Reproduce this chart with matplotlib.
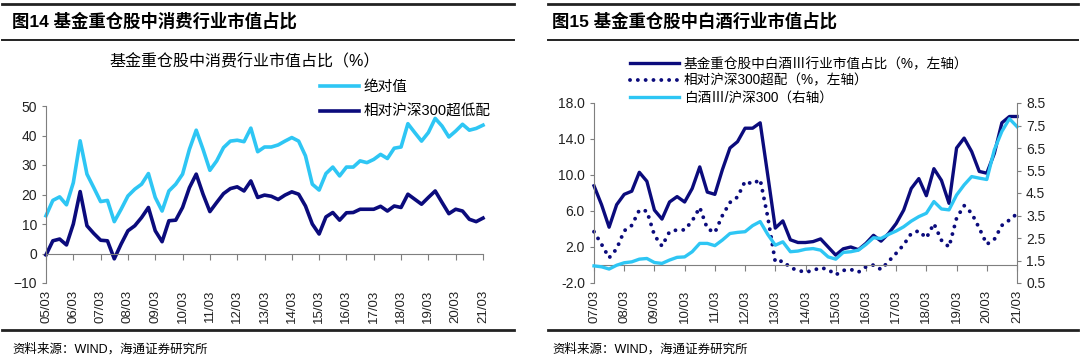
import numpy as np
import matplotlib
matplotlib.use('Agg')
import matplotlib.pyplot as plt
from matplotlib.lines import Line2D

plt.rcParams['font.family'] = ['Liberation Sans', 'Noto Sans CJK SC']

# fig 14: consumer sector share in funds' top holdings, quarterly 05/03 - 21/03
cons_abs = [12.8, 18.0, 19.2, 16.5, 24.0, 38.2, 26.9, 22.3, 17.6, 18.0,
            10.8, 15.0, 19.5, 21.8, 23.5, 27.1, 19.0, 14.4, 21.2, 23.5,
            26.9, 35.3, 41.8, 35.3, 28.2, 31.4, 35.9, 38.1, 38.4, 37.9,
            42.5, 34.5, 36.1, 36.1, 36.8, 38.1, 39.3, 38.1, 33.1, 23.5,
            21.5, 27.1, 29.3, 26.3, 29.3, 29.3, 31.4, 30.8, 31.9, 33.6,
            32.2, 35.7, 36.1, 44.0, 41.0, 38.1, 41.0, 45.8, 43.2, 39.5,
            41.5, 43.8, 41.8, 42.4, 43.5]
cons_rel = [-0.5, 4.3, 4.9, 2.9, 10.0, 21.0, 9.4, 6.8, 4.5, 4.3,
            -1.8, 3.2, 7.7, 9.4, 12.2, 15.6, 7.7, 4.0, 11.1, 11.3,
            15.6, 22.3, 26.9, 20.1, 14.2, 17.3, 20.3, 22.0, 22.6, 21.2,
            24.6, 19.0, 19.8, 19.4, 18.3, 19.8, 20.9, 20.1, 16.1, 10.0,
            6.6, 12.4, 13.9, 11.3, 13.8, 13.9, 15.0, 15.0, 15.0, 16.0,
            14.4, 16.1, 15.6, 20.1, 18.4, 16.7, 19.0, 21.2, 17.3, 13.5,
            15.0, 14.4, 11.6, 10.8, 12.0]
cons_years = ['05/03', '06/03', '07/03', '08/03', '09/03', '10/03', '11/03', '12/03', '13/03',
              '14/03', '15/03', '16/03', '17/03', '18/03', '19/03', '20/03', '21/03']

# fig 15: baijiu, quarterly 07/03 - 21/03
wine_share = [8.8, 6.7, 4.2, 6.7, 7.85, 8.2, 10.3, 9.3, 6.1, 5.1,
              7.0, 7.6, 7.0, 8.5, 10.9, 8.1, 7.85, 10.6, 13.0, 13.7,
              15.2, 15.2, 15.8, 10.0, 4.1, 4.9, 2.8, 2.5, 2.5, 2.6,
              2.9, 2.0, 1.1, 1.8, 2.0, 1.7, 2.4, 3.3, 2.65, 3.5,
              4.6, 6.1, 8.5, 9.6, 7.7, 10.7, 9.4, 6.85, 13.0, 14.1,
              12.6, 10.4, 10.2, 12.4, 15.8, 16.5, 16.5]
wine_over = [3.7, 2.3, 0.8, 1.8, 3.8, 4.4, 6.1, 6.0, 3.3, 2.1,
             3.7, 3.9, 3.9, 4.9, 6.4, 4.05, 3.6, 5.5, 6.95, 7.55,
             9.3, 9.0, 9.5, 5.35, 0.33, 0.45, -0.3, -0.6, -0.8, -0.6,
             -0.3, -0.5, -1.1, -0.6, -0.5, -0.8, -0.2, 0.0, -0.5, 0.4,
             1.3, 2.25, 3.5, 3.8, 3.0, 4.6, 2.75, 2.0, 5.2, 6.6,
             5.75, 4.1, 2.3, 2.85, 4.4, 5.0, 5.7]
wine_ratio = [1.26, 1.22, 1.12, 1.29, 1.4, 1.44, 1.56, 1.59, 1.41, 1.37,
              1.52, 1.64, 1.66, 1.89, 2.26, 2.26, 2.16, 2.41, 2.7, 2.75,
              2.78, 3.05, 3.23, 2.66, 2.18, 2.33, 1.89, 1.92, 2.0, 2.03,
              1.96, 1.66, 1.56, 1.86, 1.89, 1.96, 2.21, 2.51, 2.48, 2.66,
              2.81, 3.0, 3.25, 3.45, 3.6, 4.12, 3.79, 3.75, 4.41, 4.86,
              5.23, 5.16, 5.1, 6.42, 7.24, 7.8, 7.45]
wine_years = ['07/03', '08/03', '09/03', '10/03', '11/03', '12/03', '13/03', '14/03',
              '15/03', '16/03', '17/03', '18/03', '19/03', '20/03', '21/03']

NAVY = '#0B0B7C'
CYAN = '#2EC6F4'
GREY = '#7F7F7F'
W, H = 1080, 361

fig = plt.figure(figsize=(W / 100, H / 100), dpi=100)


def box(x0, y0, x1, y1):
    # pixel box (top-left origin) -> figure fraction
    return [x0 / W, 1 - y1 / H, (x1 - x0) / W, (y1 - y0) / H]


def hline(x0, x1, y, lw):
    fig.add_artist(Line2D([x0 / W, x1 / W], [1 - y / H, 1 - y / H], color='#222222', lw=lw))


def date_axis(ax, n, labels):
    ax.set_xlim(0, n - 1)
    ax.spines['bottom'].set_position(('data', 0))
    ax.spines['bottom'].set_color(GREY)
    ax.spines['left'].set_color(GREY)
    ax.spines['top'].set_visible(False)
    ax.spines['right'].set_visible(False)
    ax.set_xticks(np.arange(0, n, 4))
    ax.tick_params(axis='x', direction='out', length=4, color=GREY, labelbottom=False)
    sec = ax.secondary_xaxis('bottom')
    sec.spines['bottom'].set_visible(False)
    sec.set_xticks(np.arange(0, n, 4), labels=labels)
    sec.tick_params(length=0, pad=5, labelsize=9.5, labelrotation=90, labelcolor='#222222')
    ax.tick_params(axis='y', direction='out', length=3, color=GREY, labelsize=10, labelcolor='#222222')


# ---- headers / rules ----
for x0, x1 in [(2, 514), (548, 1078)]:
    hline(x0, x1, 4, 2.0)
    hline(x0, x1, 40, 1.4)
    hline(x0, x1, 330, 2.0)

fig.text(12 / W, 1 - 21 / H, '图14 基金重仓股中消费行业市值占比', fontsize=12.5, fontweight='bold', va='center')
fig.text(552 / W, 1 - 21 / H, '图15 基金重仓股中白酒行业市值占比', fontsize=12.5, fontweight='bold', va='center')
fig.text(12 / W, 1 - 349 / H, '资料来源：WIND，海通证券研究所', fontsize=9, va='center')
fig.text(552 / W, 1 - 349 / H, '资料来源：WIND，海通证券研究所', fontsize=9, va='center')

# ---- left chart ----
ax1 = fig.add_axes(box(46, 106, 483, 283))
x1 = np.arange(len(cons_abs))
ax1.plot(x1, cons_abs, color=CYAN, lw=2.6, solid_joinstyle='round', clip_on=False, label='绝对值')
ax1.plot(x1, cons_rel, color=NAVY, lw=2.6, solid_joinstyle='round', clip_on=False, label='相对沪深300超低配')
ax1.set_ylim(-10, 50)
ax1.set_yticks(range(-10, 51, 10))
date_axis(ax1, len(cons_abs), cons_years)
ax1.legend(loc='upper left', bbox_to_anchor=(320 / W, 1 - 80 / H), bbox_transform=fig.transFigure,
           frameon=False, fontsize=10.5, handlelength=2.7, handletextpad=0.3,
           labelspacing=0.75, borderpad=0, borderaxespad=0)
fig.text(245 / W, 1 - 62 / H, '基金重仓股中消费行业市值占比（%）', fontsize=11.5, ha='center', va='center')

# ---- right chart ----
ax2 = fig.add_axes(box(594, 103, 1017, 283))
x2 = np.arange(len(wine_share))
l1, = ax2.plot(x2, wine_share, color=NAVY, lw=2.4, solid_joinstyle='round', clip_on=False,
               label='基金重仓股中白酒Ⅲ行业市值占比（%，左轴）')
l2, = ax2.plot(x2, wine_over, color=NAVY, lw=2.8, linestyle=(0, (0.01, 2.0)), dash_capstyle='round',
               clip_on=False, label='相对沪深300超配（%，左轴）')
ax2.set_ylim(-2, 18)
ax2.set_yticks(np.arange(-2, 18.1, 4))
ax2.set_yticklabels(['%.1f' % v for v in np.arange(-2, 18.1, 4)])
date_axis(ax2, len(wine_share), wine_years)

ax3 = ax2.twinx()
l3, = ax3.plot(x2, wine_ratio, color=CYAN, lw=2.4, solid_joinstyle='round', clip_on=False,
               label='白酒Ⅲ/沪深300（右轴）')
ax3.set_ylim(0.5, 8.5)
ax3.set_yticks(np.arange(0.5, 8.6, 1))
ax3.set_yticklabels(['%.1f' % v for v in np.arange(0.5, 8.6, 1)])
for s in ['top', 'bottom', 'left']:
    ax3.spines[s].set_visible(False)
ax3.spines['right'].set_color(GREY)
ax3.tick_params(axis='y', direction='out', length=3, color=GREY, labelsize=10, labelcolor='#222222')

ax3.legend(handles=[l1, l2, l3], loc='upper left', bbox_to_anchor=(630 / W, 1 - 57 / H),
           bbox_transform=fig.transFigure, frameon=False, fontsize=9.8, handlelength=3.6,
           handletextpad=0.35, labelspacing=0.2, borderpad=0, borderaxespad=0)

fig.savefig('out.png', dpi=100)
